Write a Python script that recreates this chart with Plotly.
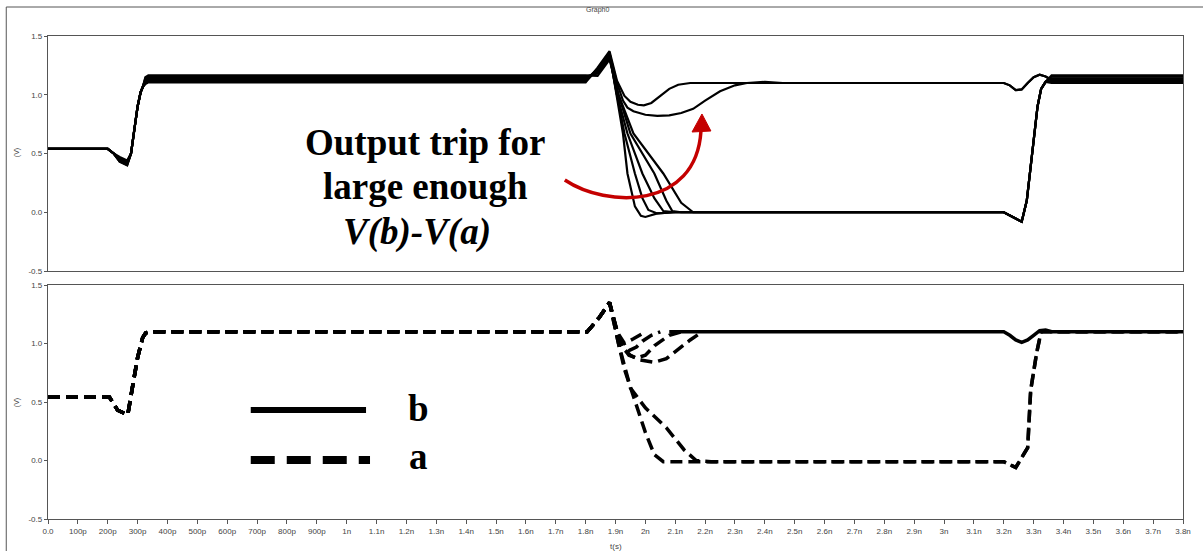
import plotly.graph_objects as go

W, H = 1203, 551
ML, MR, MT, MB = 48, 13, 36, 32
PW, PH = W - ML - MR, H - MT - MB

def px(x):
    return (x - ML) / PW

def py(y):
    return (H - MB - y) / PH

# ---------------- data (time in ns, voltage in V) ----------------
top_t_start = [0.0, 0.2, 0.22, 0.24, 0.265, 0.278, 0.29, 0.30, 0.31, 0.318, 0.326, 0.336, 1.8, 1.84, 1.88]
top_high_early = [1.105, 1.115, 1.125, 1.135, 1.145, 1.155, 1.165]
top_dip_min = [0.44, 0.43, 0.42, 0.41, 0.41, 0.40, 0.40]
top_peak = [1.37, 1.35, 1.36, 1.34, 1.33, 1.32, 1.30]
top_high_late = [1.13, 1.12, 1.10, 1.115, 1.14, 1.155, 1.165]

# middle part of each top trace (after the 1.88n peak, up to 3.2n)
top_mid_t = [
    [1.905, 1.93, 1.95, 1.975, 1.995, 2.02, 2.05, 2.08, 2.11, 2.15, 3.2],
    [1.905, 1.925, 1.94, 1.96, 2.0, 2.04, 2.08, 2.12, 2.16, 2.2, 2.25, 2.3, 2.34, 2.40, 2.46, 3.2],
    [1.90, 1.925, 1.94, 1.965, 1.985, 2.0, 2.04, 2.1, 3.2],
    [1.905, 1.93, 1.965, 1.99, 2.01, 2.04, 2.1, 3.2],
    [1.905, 1.94, 1.99, 2.03, 2.06, 2.1, 3.2],
    [1.91, 1.95, 2.03, 2.07, 2.09, 2.12, 3.2],
    [1.91, 1.96, 2.06, 2.12, 2.16, 3.2],
]
top_mid_v = [
    [1.12, 0.99, 0.94, 0.915, 0.91, 0.93, 0.99, 1.05, 1.085, 1.10, 1.10],
    [1.10, 0.95, 0.89, 0.86, 0.83, 0.82, 0.825, 0.845, 0.88, 0.95, 1.03, 1.08, 1.10, 1.11, 1.10, 1.10],
    [1.05, 0.67, 0.33, 0.05, -0.03, -0.04, -0.01, 0.0, 0.0],
    [1.0, 0.67, 0.33, 0.12, 0.02, -0.01, 0.0, 0.0],
    [1.0, 0.67, 0.33, 0.12, 0.01, 0.0, 0.0],
    [1.0, 0.67, 0.33, 0.10, 0.01, 0.0, 0.0],
    [1.0, 0.67, 0.33, 0.08, 0.0, 0.0],
]
top_end_high_t = [3.22, 3.24, 3.26, 3.28, 3.30, 3.32, 3.34, 3.36, 3.8]
top_end_high_v = [1.08, 1.04, 1.045, 1.10, 1.15, 1.17, 1.155]
top_end_low_t = [3.23, 3.26, 3.277, 3.297, 3.313, 3.325, 3.34, 3.36, 3.8]
top_end_low_v = [-0.04, -0.08, 0.10, 0.53, 0.90, 1.05, 1.11]
top_stays_high = [True, True, False, False, False, False, False]

bot_t_start = [0.0, 0.206, 0.233, 0.267, 0.283, 0.30, 0.317, 0.327, 0.34, 1.805, 1.845, 1.88]
bot_v_start = [0.54, 0.54, 0.43, 0.39, 0.63, 0.88, 1.05, 1.09, 1.10, 1.10, 1.22, 1.35]

a_mid_t = [
    [1.905, 1.93, 1.96, 1.985, 2.0],
    [1.91, 1.945, 1.97, 1.99, 2.02, 2.05],
    [1.915, 1.945, 1.97, 2.0, 2.03, 2.08, 2.12],
    [1.92, 1.95, 1.98, 2.03, 2.07, 2.10, 2.15, 2.19],
    [1.91, 1.93, 1.96, 2.0, 2.03, 2.06, 2.1, 3.2, 3.24, 3.28, 3.29, 3.31, 3.325, 3.8],
    [1.91, 1.93, 1.95, 2.0, 2.07, 2.13, 2.17, 2.22, 3.2, 3.24, 3.28, 3.29, 3.31, 3.325, 3.8],
]
a_mid_v = [
    [1.10, 1.00, 1.04, 1.08, 1.10],
    [1.05, 0.94, 0.97, 1.02, 1.07, 1.10],
    [1.0, 0.90, 0.876, 0.90, 0.98, 1.07, 1.10],
    [0.97, 0.90, 0.86, 0.84, 0.87, 0.93, 1.03, 1.10],
    [1.0, 0.78, 0.55, 0.24, 0.05, -0.01, -0.01, -0.01, -0.06, 0.11, 0.60, 0.92, 1.10, 1.10],
    [1.0, 0.80, 0.62, 0.45, 0.28, 0.09, 0.0, -0.01, -0.01, -0.06, 0.11, 0.60, 0.92, 1.10, 1.10],
]
b_t = [2.08, 3.2, 3.22, 3.24, 3.26, 3.28, 3.30, 3.32, 3.34, 3.36, 3.8]
b_v = [1.10, 1.10, 1.07, 1.03, 1.01, 1.03, 1.07, 1.11, 1.115, 1.10, 1.10]

x_tick_vals = [i / 10 for i in range(39)]
x_tick_text = ["0.0", "100p", "200p", "300p", "400p", "500p", "600p", "700p", "800p", "900p",
               "1n", "1.1n", "1.2n", "1.3n", "1.4n", "1.5n", "1.6n", "1.7n", "1.8n", "1.9n",
               "2n", "2.1n", "2.2n", "2.3n", "2.4n", "2.5n", "2.6n", "2.7n", "2.8n", "2.9n",
               "3n", "3.1n", "3.2n", "3.3n", "3.4n", "3.5n", "3.6n", "3.7n", "3.8n"]
y_tick_vals = [-0.5, 0.0, 0.5, 1.0, 1.5]
y_tick_text = ["-0.5", "0.0", "0.5", "1.0", "1.5"]

# ---------------- figure ----------------
fig = go.Figure()

for k in range(len(top_mid_t)):
    h = top_high_early[k]
    d = top_dip_min[k]
    v_start = [0.54, 0.54, 0.50, d + 0.03, d, 0.50, 0.72, 0.90, 1.02, 1.07, h - 0.015, h, h,
               top_peak[k] - 0.14, top_peak[k]]
    h2 = top_high_late[k]
    if top_stays_high[k]:
        t_end, v_end = top_end_high_t, top_end_high_v + [h2, h2]
    else:
        t_end, v_end = top_end_low_t, top_end_low_v + [h2, h2]
    fig.add_trace(go.Scatter(
        x=top_t_start + top_mid_t[k] + t_end,
        y=v_start + top_mid_v[k] + v_end,
        mode="lines", line=dict(color="black", width=2.2),
        xaxis="x", yaxis="y", showlegend=False, hoverinfo="skip"))

fig.add_trace(go.Scatter(x=b_t, y=b_v, mode="lines",
                         line=dict(color="black", width=3.5),
                         xaxis="x2", yaxis="y2", showlegend=False, hoverinfo="skip"))
for k in range(len(a_mid_t)):
    fig.add_trace(go.Scatter(
        x=bot_t_start + a_mid_t[k], y=bot_v_start + a_mid_v[k], mode="lines",
        line=dict(color="black", width=3.5, dash="12px,6px"),
        xaxis="x2", yaxis="y2", showlegend=False, hoverinfo="skip"))

axis_common = dict(range=[0, 3.8], showgrid=False, zeroline=False, showline=True,
                   mirror=True, linecolor="#555", linewidth=1.3)
yaxis_common = dict(range=[-0.5, 1.5], showgrid=False, zeroline=False, showline=True,
                    mirror=True, linecolor="#555", linewidth=1.3,
                    tickvals=y_tick_vals, ticktext=y_tick_text, ticks="outside",
                    ticklen=3, tickcolor="#555",
                    tickfont=dict(family="Liberation Sans", size=8, color="#444"))

fig.update_layout(
    width=W, height=H, margin=dict(l=ML, r=MR, t=MT, b=MB),
    paper_bgcolor="white", plot_bgcolor="white",
    xaxis=dict(**axis_common, domain=[0, 1], anchor="y", showticklabels=False, ticks=""),
    yaxis=dict(**yaxis_common, domain=[py(271), 1], anchor="x"),
    xaxis2=dict(**axis_common, domain=[0, 1], anchor="y2", tickvals=x_tick_vals,
                ticktext=x_tick_text, ticks="outside", ticklen=4, tickcolor="#555",
                tickangle=0,
                tickfont=dict(family="Liberation Sans", size=8, color="#444")),
    yaxis2=dict(**yaxis_common, domain=[0, py(285)], anchor="x2"),
)

serif_bold = dict(family="Liberation Serif", size=37, color="black")
small = dict(family="Liberation Sans", size=7, color="#444")
ann = [
    dict(text="Graph0", x=px(601), y=py(10), font=small),
    dict(text="(V)", x=px(17), y=py(153), textangle=-90, font=small),
    dict(text="(V)", x=px(17), y=py(403), textangle=-90, font=small),
    dict(text="t(s)", x=px(620), y=py(546), font=dict(family="Liberation Sans", size=8, color="#444")),
    dict(text="<b>Output trip for</b>", x=px(428), y=py(142), font=serif_bold),
    dict(text="<b>large enough</b>", x=px(428), y=py(187), font=serif_bold),
    dict(text="<b><i>V(b)-V(a)</i></b>", x=px(419), y=py(232), font=serif_bold),
    dict(text="<b>b</b>", x=px(421), y=py(408), font=serif_bold),
    dict(text="<b>a</b>", x=px(421), y=py(456), font=serif_bold),
]
for a in ann:
    a.update(xref="paper", yref="paper", showarrow=False, xanchor="center", yanchor="middle")
fig.update_layout(annotations=ann)

def pt(x, y):
    return f"{px(x):.5f},{py(y):.5f}"

red = "#c40000"
shapes = [
    dict(type="rect", xref="paper", yref="paper", x0=px(6), y0=py(565), x1=px(1215), y1=py(7),
         line=dict(color="#555", width=1)),
    dict(type="line", xref="paper", yref="paper", x0=px(252), y0=py(410), x1=px(368), y1=py(410),
         line=dict(color="black", width=6)),
    dict(type="line", xref="paper", yref="paper", x0=px(252), y0=py(460), x1=px(372), y1=py(460),
         line=dict(color="black", width=8, dash="24px,12px")),
    dict(type="path", xref="paper", yref="paper",
         path=f"M {pt(568,180)} C {pt(610,208)} {pt(700,210)} {pt(705,131)}",
         line=dict(color=red, width=3.5)),
    dict(type="path", xref="paper", yref="paper",
         path=f"M {pt(706,114)} L {pt(696,132)} L {pt(715,131)} Z",
         fillcolor=red, line=dict(color=red, width=1)),
]
fig.update_layout(shapes=shapes)

fig.write_html("out.html")
